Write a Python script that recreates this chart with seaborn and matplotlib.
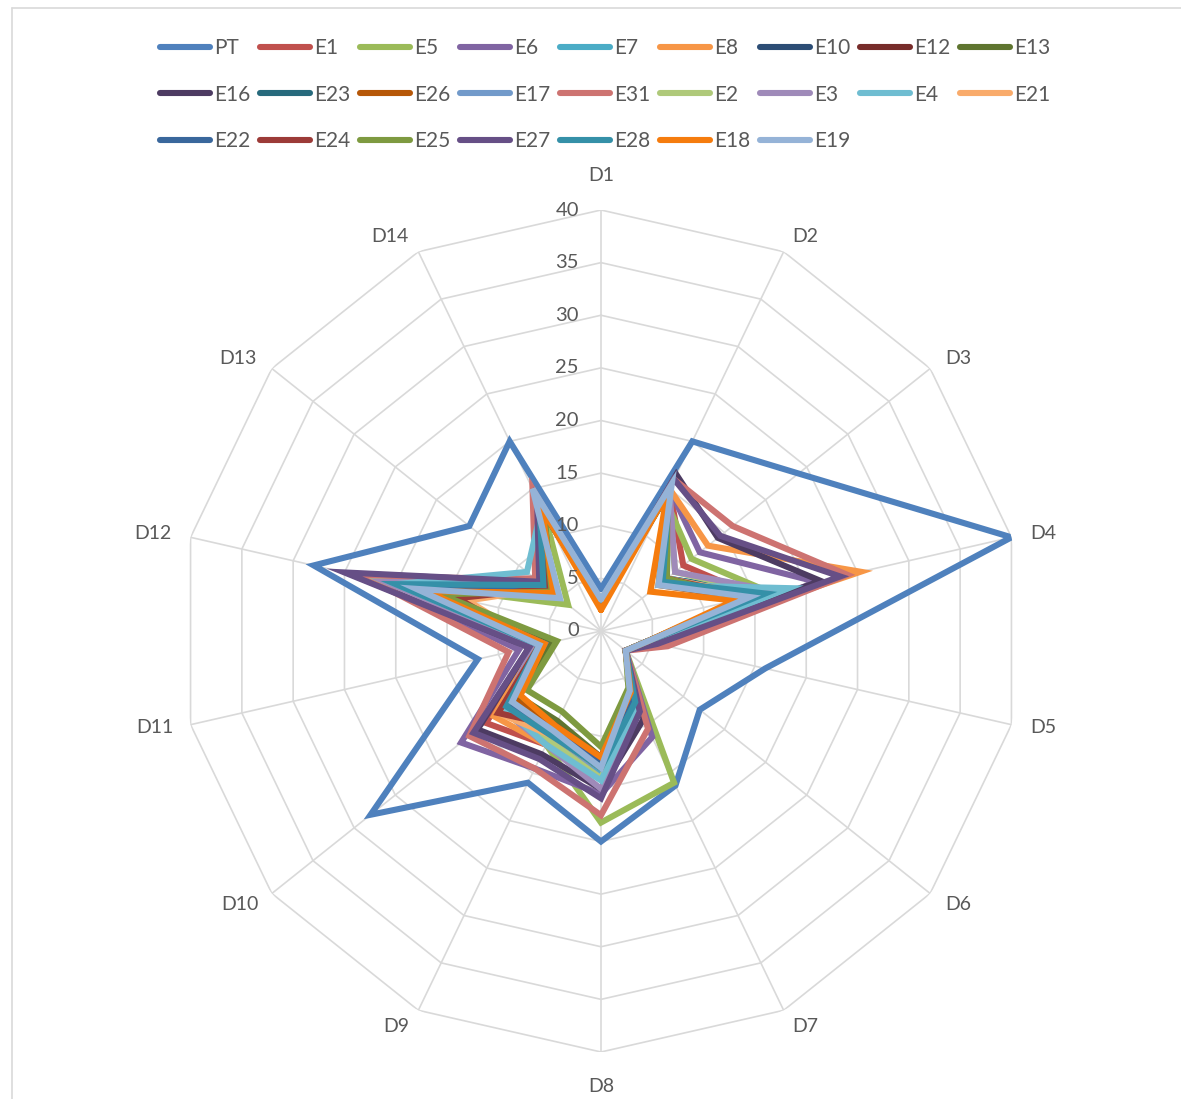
import numpy as np
import pandas as pd
import matplotlib
matplotlib.use("Agg")
import matplotlib.pyplot as plt
from matplotlib.lines import Line2D
from matplotlib.transforms import offset_copy
import seaborn as sns

sns.set_theme(style="white")
plt.rcParams["font.family"] = ["Lato", "DejaVu Sans"]

axes_labels = ["D1", "D2", "D3", "D4", "D5", "D6", "D7",
               "D8", "D9", "D10", "D11", "D12", "D13", "D14"]
radial_ticks = [0, 5, 10, 15, 20, 25, 30, 35, 40]

series_names = ["PT", "E1", "E5", "E6", "E7", "E8", "E10", "E12", "E13",
                "E16", "E23", "E26", "E17", "E31", "E2", "E3", "E4", "E21",
                "E22", "E24", "E25", "E27", "E28", "E18", "E19"]

PT  = [4, 20, 24, 40, 16, 12, 16.3, 20, 16, 28, 12, 28, 16, 20]
E1  = [2.5, 15, 10, 15, 4.5, 3, 7, 13, 12, 14, 6, 17, 6, 13]
E5  = [2.5, 14, 11, 16.5, 4.5, 3, 16, 18.2, 12, 12, 5, 21, 4, 12.5]
E6  = [2.5, 15, 12, 21, 5.5, 3, 11.2, 15.5, 14.5, 17, 8, 23, 7, 13.5]
E7  = [2.5, 14.5, 8, 16, 4.5, 3, 8, 13.5, 11, 12, 6, 19, 8, 13]
E8  = [2.5, 15, 13, 25.3, 5, 3, 8, 14, 12, 13, 6.5, 20, 7, 13.5]
E10 = [2.5, 14.5, 7.5, 15, 4.5, 3, 7, 13, 11, 11.5, 6, 19, 6.5, 13]
E12 = [2.5, 14.5, 8, 14, 4.5, 3, 6.5, 12, 10, 12, 5.5, 15, 6.5, 12.5]
E13 = [2.5, 14, 8, 14, 4.5, 3, 6.5, 12, 9.5, 10, 5, 16, 6, 12.5]
E16 = [2.5, 16.5, 14.2, 21.4, 5, 3, 9.3, 15, 13, 15, 7, 24.5, 7.5, 14]
E23 = [2.5, 14.5, 8, 16, 4.5, 3, 7, 13, 11, 11, 6, 19.5, 7, 13]
E26 = [2.5, 14.5, 7, 14, 4.5, 3, 6.5, 12.5, 10, 10.5, 5.5, 17, 6, 13]
E17 = [2.5, 15, 8, 15, 4.5, 3, 7, 14, 11, 11, 5.5, 18, 6, 13.5]
E31 = [2.5, 16, 16, 24, 6.5, 3, 10.3, 17.5, 14.5, 16, 9, 23, 8, 15]
E2  = [2.5, 14.5, 9, 16, 4.5, 3, 7.5, 14, 11.5, 12, 6, 21, 6.5, 13]
E3  = [2.5, 15, 9, 17, 4.5, 3, 8, 15, 12, 12, 6.5, 21, 7, 13]
E4  = [2.5, 15, 7, 18.3, 5, 3, 7.8, 14.2, 12, 11.7, 6, 20, 9, 13]
E21 = [2.5, 14.5, 8, 15, 4.5, 3, 7, 13, 11, 12.5, 6, 13, 6.5, 13]
E22 = [2.5, 14.5, 7.5, 15, 4.5, 3, 7, 12.5, 10.5, 11, 5.5, 18, 6.5, 13]
E24 = [2.5, 14.5, 8, 14.5, 4.5, 3, 6.5, 12, 10, 12.5, 6, 14, 6.5, 12.5]
E25 = [2.5, 14.5, 8, 14, 4.5, 3, 6, 11, 8.5, 9, 4.3, 15.7, 6, 12.5]
E27 = [2.5, 16, 14.5, 23.3, 5.5, 3, 8.5, 15.9, 13.5, 15.5, 7, 25, 7.5, 14]
E28 = [2.5, 15, 7.5, 16, 4.5, 3, 7.5, 13, 11, 11.5, 6, 20, 7, 13.5]
E18 = [2, 14.5, 6, 13, 4.5, 3, 6.5, 12, 10, 9.8, 5.5, 17, 5.8, 12.9]
E19 = [3, 15.5, 7, 14.5, 4.5, 3, 6.3, 13, 10.5, 10.8, 6, 18, 5, 15]

series_values = [PT, E1, E5, E6, E7, E8, E10, E12, E13, E16, E23, E26, E17,
                 E31, E2, E3, E4, E21, E22, E24, E25, E27, E28, E18, E19]

palette = ["#4F81BD", "#C0504D", "#9BBB59", "#8064A2", "#4BACC6", "#F79646",
           "#2C4D75", "#772C2A", "#5F7530", "#4D3B62", "#276A7C", "#B65708",
           "#729ACA", "#CD7371", "#AFC97A", "#9F8AB9", "#6FBDD1", "#F9AB6B",
           "#3A679C", "#9C3B38", "#7E9A40", "#664F86", "#3590A8", "#F57C0E",
           "#95B3D7"]

n_axes = len(axes_labels)
theta = np.arange(n_axes) * 2 * np.pi / n_axes
theta_closed = np.append(theta, theta[0])

# long-form table: each series closed back to its first spoke
rows = []
for name, vals in zip(series_names, series_values):
    closed = list(vals) + [vals[0]]
    for i, (t, v) in enumerate(zip(theta_closed, closed)):
        rows.append({"series": name, "step": i, "theta": t, "value": v})
df = pd.DataFrame(rows)

W, H, DPI = 1181, 1099, 100
fig = plt.figure(figsize=(W / DPI, H / DPI), dpi=DPI)

cx, cy, rad = 601, 631, 421
ax = fig.add_axes([(cx - rad) / W, (H - cy - rad) / H, 2 * rad / W, 2 * rad / H],
                  projection="polar")
ax.set_theta_zero_location("N")
ax.set_theta_direction(-1)
ax.set_ylim(0, 40)
ax.grid(False)
ax.set_xticks([])
ax.set_yticks([])
ax.spines["polar"].set_visible(False)
ax.patch.set_alpha(0)

grid_col = "#D9D9D9"
for r in radial_ticks[1:]:
    ax.plot(theta_closed, [r] * len(theta_closed), color=grid_col, lw=1.2, zorder=0)
for t in theta:
    ax.plot([t, t], [0, 40], color=grid_col, lw=1.2, zorder=0)

sns.lineplot(data=df, x="theta", y="value", hue="series", hue_order=series_names,
             palette=palette, units="series", estimator=None, sort=False,
             linewidth=4.4, legend=False, ax=ax,
             solid_joinstyle="miter", solid_capstyle="round")
ax.set_xlabel("")
ax.set_ylabel("")
ax.set_ylim(0, 40)

text_col = "#595959"
# category labels sit just outside the outer ring, offset in pixels (x right, y down)
label_offsets = [(0, -35), (22, -15), (28, -10), (32, -4), (32, 3), (28, 11),
                 (22, 16), (0, 35), (-22, 16), (-32, 11), (-36, 3), (-38, -4),
                 (-34, -10), (-28, -15)]
for t, lab, (ox, oy) in zip(theta, axes_labels, label_offsets):
    tr = offset_copy(ax.transData, fig=fig, x=ox, y=-oy, units="dots")
    ax.text(t, 40, lab, transform=tr, ha="center", va="center",
            fontsize=14, color=text_col)

tick_tr = offset_copy(ax.transData, fig=fig, x=-22, y=0, units="dots")
for r in radial_ticks:
    ax.text(0, r, str(r), transform=tick_tr, ha="right", va="center",
            fontsize=14.5, color=text_col)

# legend laid out row by row (matplotlib fills columns first)
ncol = 9
order = [r * ncol + c for c in range(ncol) for r in range(3)
         if r * ncol + c < len(series_names)]
handles = [Line2D([0], [0], color=palette[i], lw=4.4, solid_capstyle="round")
           for i in order]
labels = [series_names[i] for i in order]
fig.legend(handles, labels, loc="upper left",
           bbox_to_anchor=(160 / W, 1 - 38 / H), ncol=ncol, frameon=False,
           fontsize=15, handlelength=2.4, handletextpad=0.22,
           columnspacing=0.44, labelspacing=1.28, borderpad=0,
           borderaxespad=0, labelcolor=text_col)

# chart-area frame
fig.add_artist(Line2D([12 / W, 12 / W], [0, 1 - 8 / H], transform=fig.transFigure,
                      color="#D9D9D9", lw=1.2))
fig.add_artist(Line2D([12 / W, 1], [1 - 8 / H, 1 - 8 / H], transform=fig.transFigure,
                      color="#D9D9D9", lw=1.2))

fig.savefig("out.png", dpi=DPI)
